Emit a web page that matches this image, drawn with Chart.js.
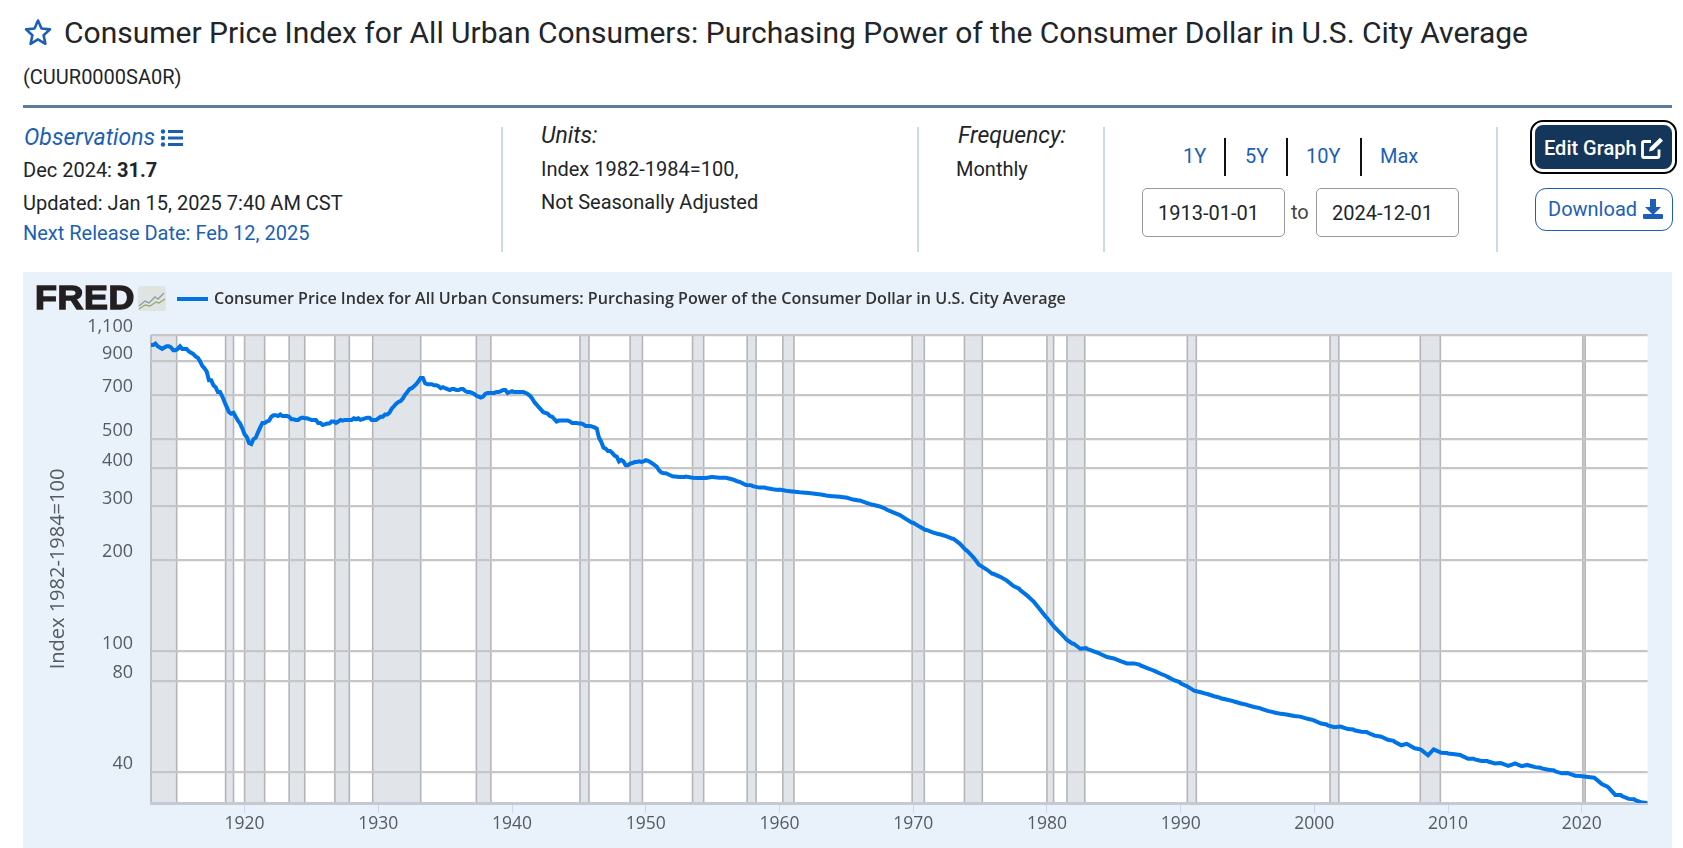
<!DOCTYPE html>
<html lang="en"><head><meta charset="utf-8">
<title>FRED CUUR0000SA0R</title>
<script src="https://cdn.jsdelivr.net/npm/chart.js@4"></script>
<style>
html,body{margin:0;padding:0;width:1683px;height:848px;overflow:hidden;background:#fff;font-family:Roboto,sans-serif;color:#212529}
.a{position:absolute;white-space:nowrap;line-height:24px}
.b{color:#1c5fb5}
.i{font-style:italic}
.sep{position:absolute;width:2px;top:127px;height:125px;background:#c9dce3}
.ysep{position:absolute;width:1.5px;top:138px;height:38px;background:#111}
.inp{position:absolute;top:188px;height:47px;border:1px solid #999;border-radius:5px;box-sizing:content-box}
#panel{position:absolute;left:23px;top:272px;width:1649px;height:576px;background:#e9f1fa}
#wrap{position:absolute;left:23px;top:272px;width:1649px;height:576px}
</style></head><body>
<svg class="a" style="left:24px;top:18px" width="28" height="29" viewBox="0 0 28 29"><path d="M14 2.5l3.5 8 8.5.9-6.4 5.8 1.8 8.6L14 21.4l-7.4 4.4 1.8-8.6L2 11.4l8.5-.9z" fill="none" stroke="#1c5fb5" stroke-width="2.6" stroke-linejoin="round"/></svg>
<div class="a" id="title" style="left:64px;top:17px;font-size:30px;line-height:32px">Consumer Price Index for All Urban Consumers: Purchasing Power of the Consumer Dollar in U.S. City Average</div>
<div class="a" style="left:23px;top:65px;font-size:20px">(CUUR0000SA0R)</div>
<div style="position:absolute;left:23px;top:105px;width:1649px;height:3px;background:#5b7d99"></div>

<div class="a b i" style="left:24px;top:126px;font-size:23px">Observations</div>
<svg class="a" style="left:160px;top:128px" width="24" height="20" viewBox="0 0 24 20" fill="#1c5fb5"><circle cx="3" cy="3.5" r="2.2"/><circle cx="3" cy="10" r="2.2"/><circle cx="3" cy="16.5" r="2.2"/><rect x="8" y="2" width="15" height="3"/><rect x="8" y="8.5" width="15" height="3"/><rect x="8" y="15" width="15" height="3"/></svg>
<div class="a" style="left:23px;top:158px;font-size:20px">Dec 2024: <b>31.7</b></div>
<div class="a" style="left:23px;top:191px;font-size:20px">Updated: Jan 15, 2025 7:40 AM CST</div>
<div class="a b" style="left:23px;top:221px;font-size:20px">Next Release Date: Feb 12, 2025</div>
<div class="sep" style="left:501px"></div>

<div class="a i" style="left:541px;top:124px;font-size:23px">Units:</div>
<div class="a" style="left:541px;top:157px;font-size:20px">Index 1982-1984=100,</div>
<div class="a" style="left:541px;top:190px;font-size:20px">Not Seasonally Adjusted</div>
<div class="sep" style="left:917px"></div>

<div class="a i" style="left:958px;top:124px;font-size:23px">Frequency:</div>
<div class="a" style="left:956px;top:157px;font-size:20px">Monthly</div>
<div class="sep" style="left:1103px"></div>

<div class="a b" style="left:1183px;top:144px;font-size:20px">1Y</div>
<div class="ysep" style="left:1224px"></div>
<div class="a b" style="left:1245px;top:144px;font-size:20px">5Y</div>
<div class="ysep" style="left:1286px;width:2px"></div>
<div class="a b" style="left:1306px;top:144px;font-size:20px">10Y</div>
<div class="ysep" style="left:1360px"></div>
<div class="a b" style="left:1380px;top:144px;font-size:20px">Max</div>

<div class="inp" style="left:1142px;width:141px"></div>
<div class="a" style="left:1158px;top:201px;font-size:20px">1913-01-01</div>
<div class="a" style="left:1291px;top:200px;font-size:20px;color:#444">to</div>
<div class="inp" style="left:1316px;width:141px"></div>
<div class="a" style="left:1332px;top:201px;font-size:20px">2024-12-01</div>
<div class="sep" style="left:1496px"></div>

<div style="position:absolute;left:1531px;top:121px;width:145px;height:52px;box-sizing:border-box;background:#14365a;border-radius:12px"></div>
<div style="position:absolute;left:1530px;top:120px;width:147px;height:54px;box-sizing:border-box;border:2px solid #000;border-radius:13px"></div>
<div style="position:absolute;left:1532px;top:122px;width:143px;height:50px;box-sizing:border-box;border:3px solid #fff;border-radius:11px"></div>
<div class="a" style="left:1544px;top:136px;font-size:20px;font-weight:500;color:#fff">Edit Graph</div>
<svg class="a" style="left:1640px;top:136px" width="24" height="24" viewBox="0 0 24 24" fill="none" stroke="#fff" stroke-width="2.8"><path d="M19 13.5V20a1.5 1.5 0 0 1-1.5 1.5H4A1.5 1.5 0 0 1 2.5 20V7A1.5 1.5 0 0 1 4 5.5h7"/><path d="M9 15.5l1-4L20 1.8l3 3L13 14.5z" fill="#fff" stroke="none"/></svg>

<div style="position:absolute;left:1535px;top:188px;width:138px;height:43px;box-sizing:border-box;border:1px solid #1c5fb5;border-radius:11px"></div>
<div class="a b" style="left:1548px;top:197px;font-size:20px">Download</div>
<svg class="a" style="left:1642px;top:198px" width="22" height="22" viewBox="0 0 22 22" fill="#1c5fb5"><path d="M8 1h6v8h5l-8 8-8-8h5z"/><rect x="1" y="16" width="20" height="5" rx="1"/></svg>

<div id="panel"></div>
<div id="wrap"><canvas id="c" width="1649" height="576"></canvas></div>

<div class="a" style="left:35px;top:281px;font-family:'Liberation Sans',sans-serif;font-weight:700;font-size:33.5px;line-height:34px;color:#231f20;-webkit-text-stroke:1.4px #231f20;letter-spacing:.6px;transform-origin:left center;transform:scaleX(1.07)">FRED</div>
<svg class="a" style="left:138px;top:286px" width="28" height="25" viewBox="0 0 28 25"><rect width="28" height="25" rx="3" fill="#dfe4e1"/><path d="M1 20l6-5 4 2 6-6 3 2 6-6" fill="none" stroke="#8da0a8" stroke-width="1.4"/><path d="M1 23l6-4 5 1 6-4 3 1 6-4" fill="none" stroke="#94ad7f" stroke-width="1.4"/></svg>
<div style="position:absolute;left:177px;top:297px;width:31px;height:4px;background:#0073e6"></div>
<div class="a" id="leg" style="left:214px;top:286px;font-family:'Open Sans',sans-serif;font-weight:600;font-size:16.1px;color:#333">Consumer Price Index for All Urban Consumers: Purchasing Power of the Consumer Dollar in U.S. City Average</div>

<script>
// Series name and axis labels
const seriesName = "Consumer Price Index for All Urban Consumers: Purchasing Power of the Consumer Dollar in U.S. City Average";
const yAxisTitle = "Index 1982-1984=100";
const yTickValues = [40, 80, 100, 200, 300, 400, 500, 700, 900, 1100];
const xTickYears = [1920, 1930, 1940, 1950, 1960, 1970, 1980, 1990, 2000, 2010, 2020];

// Jan, Mar, May, Jul, Sep, Nov readings, 1913-1951
const valuesEarly = [
1020,1020,1031,1010,1000,990, 1000,1010,1010,1000,980,980, 990,1010,990,990,990,971,
962,952,935,926,901,870, 855,833,781,781,752,741, 714,714,690,662,637,613,
606,610,592,575,562,541, 518,508,485,481,500,505, 526,546,565,565,571,575,
592,599,599,595,602,595, 595,595,592,581,581,578, 578,585,588,585,585,581,
578,578,578,565,565,556, 559,562,562,571,571,565, 571,578,575,578,578,578,
578,585,581,585,578,581, 585,588,588,578,578,578, 585,592,592,602,602,610,
629,641,654,662,667,680, 699,714,730,735,746,758, 775,794,794,763,758,758,
758,752,752,746,735,741, 735,730,725,730,730,725, 725,730,730,719,714,714,
709,704,694,690,685,690, 704,709,709,709,709,714, 714,719,725,725,709,714,
719,714,714,714,714,714, 709,704,694,680,662,649, 637,625,613,610,606,595,
592,581,571,575,575,575, 575,575,571,565,565,565, 562,562,559,552,552,552,
549,546,541,505,490,469, 465,457,457,450,441,437, 422,427,422,410,410,415,
417,420,420,422,420,422, 426,424,420,415,410,405, 394,388,386,386,383,380];

// Jan, Jul, Dec readings, 1952-2024
const valuesLate = [
377,375,375, 376,373,372, 372,372,375, 375,373,373, 373,368,362, 362,353,352,
350,346,346, 345,342,340, 341,338,336, 336,334,333, 333,331,329, 329,326,324,
324,323,321, 321,316,314, 314,308,304, 304,300,295, 293,287,282, 281,272,265,
265,257,251, 251,246,243, 243,239,235, 235,226,216, 215,204,193, 192,186,180,
180,176,172, 171,164,161, 159,153,147, 146,137,130, 129,121,116, 115,109,106,
106,102,102.5, 102,100,98.6, 98.1,95.8,95.0, 94.8,92.9,91.5, 91.2,91.3,90.5,
89.9,88.1,86.7, 86.4,84.4,83.0, 82.6,80.4,79.3, 78.5,76.7,74.7, 74.3,73.4,72.5,
72.4,71.2,70.5, 70.1,69.3,68.6, 68.4,67.4,66.8, 66.5,65.6,65.1, 64.8,63.7,63.1,
62.9,62.3,62.0, 61.9,61.3,61.0, 60.9,60.0,59.4, 59.2,57.9,57.5, 57.1,56.3,56.6,
56.5,55.5,55.3, 55.0,54.4,54.3, 54.0,52.8,52.5, 52.4,51.2,50.8, 50.4,49.1,49.6,
49.4,48.0,47.6, 47.4,45.5,47.6, 47.4,46.4,46.3, 46.1,45.9,45.6, 45.4,44.3,44.3,
44.1,43.6,43.6, 43.4,42.8,42.9, 42.8,42.0,42.6, 42.8,41.9,42.3, 42.2,41.6,41.4,
41.2,40.8,40.6, 40.3,39.7,39.8, 39.7,39.0,38.9, 38.8,38.6,38.4, 38.2,36.6,35.9,
35.6,33.7,33.7, 33.4,32.7,32.6, 32.4,31.8,31.7];

// Recession bands (start year, end year)
const recessionStarts = [1913.0,1918.58,1920.0,1923.33,1926.75,1929.58,1937.33,1945.08,1948.83,1953.5,1957.58,1960.25,1969.92,1973.83,1980.0,1981.5,1990.5,2001.17,2007.92,2020.08];
const recessionEnds   = [1914.92,1919.17,1921.5,1924.5,1927.83,1933.17,1938.42,1945.75,1949.75,1954.33,1958.25,1961.08,1970.83,1975.17,1980.5,1982.83,1991.17,2001.83,2009.42,2020.25];

const firstYear = 1913, lastYear = 2024.92, floorValue = 31.7, ceilValue = 1100;

const points = [];
let k = 0;
for (let y = 1913; y <= 1951; y++) for (const m of [0,2,4,6,8,10]) points.push({x: y + m/12, y: valuesEarly[k++]});
k = 0;
for (let y = 1952; y <= 2024; y++) for (const m of [0,6,11]) points.push({x: y + m/12, y: valuesLate[k++]});

const recessionBands = {
  id: 'recessionBands',
  beforeDraw(chart) {
    const {ctx, chartArea: a, scales: {x}} = chart;
    ctx.save();
    ctx.fillStyle = '#fff';
    ctx.fillRect(a.left, a.top, a.right - a.left, a.bottom - a.top);
    recessionStarts.forEach((s, i) => {
      const x0 = x.getPixelForValue(s), x1 = x.getPixelForValue(recessionEnds[i]);
      ctx.fillStyle = '#e1e5ea';
      ctx.fillRect(x0, a.top, x1 - x0, a.bottom - a.top);
      ctx.strokeStyle = '#b3b5b7';
      ctx.lineWidth = 1.6;
      ctx.beginPath();
      ctx.moveTo(x0, a.top); ctx.lineTo(x0, a.bottom);
      ctx.moveTo(x1, a.top); ctx.lineTo(x1, a.bottom);
      ctx.stroke();
    });
    ctx.restore();
  }
};

const tickColor = '#555b61';
new Chart(document.getElementById('c'), {
  type: 'line',
  data: { datasets: [{ label: seriesName, data: points, borderColor: '#0073e6', borderWidth: 4, pointRadius: 0, tension: 0, fill: false }] },
  plugins: [recessionBands],
  options: {
    responsive: false, animation: false, devicePixelRatio: 1,
    layout: { padding: { top: 63, right: 24.4, left: 0, bottom: 0 } },
    plugins: { legend: { display: false }, tooltip: { enabled: false }, title: { display: false } },
    scales: {
      x: {
        type: 'linear', min: firstYear, max: lastYear,
        afterBuildTicks: s => { s.ticks = xTickYears.map(v => ({value: v})); },
        afterFit: s => { s.height = 45; },
        grid: { display: true, drawOnChartArea: false, drawTicks: true, tickLength: 10, color: '#ccd6eb', lineWidth: 1 },
        border: { display: true, color: '#c3cad3', width: 3 },
        ticks: { callback: v => String(v), autoSkip: false, maxRotation: 0, padding: 1, color: tickColor, font: { family: "'Open Sans'", size: 17.5 } }
      },
      y: {
        type: 'logarithmic', min: floorValue, max: ceilValue,
        afterBuildTicks: s => { s.ticks = yTickValues.map(v => ({value: v})); },
        afterFit: s => { s.width = 128; },
        grid: { color: '#c6c6c6', lineWidth: 2.2, drawTicks: false },
        border: { display: false },
        title: { display: true, text: yAxisTitle, color: tickColor, padding: { top: 23, bottom: 0 }, font: { family: "'Open Sans'", size: 20 } },
        ticks: { callback: v => v.toLocaleString('en-US'), autoSkip: false, padding: 18, labelOffset: -8, color: tickColor, font: { family: "'Open Sans'", size: 18 } }
      }
    }
  }
});
</script>
</body></html>
